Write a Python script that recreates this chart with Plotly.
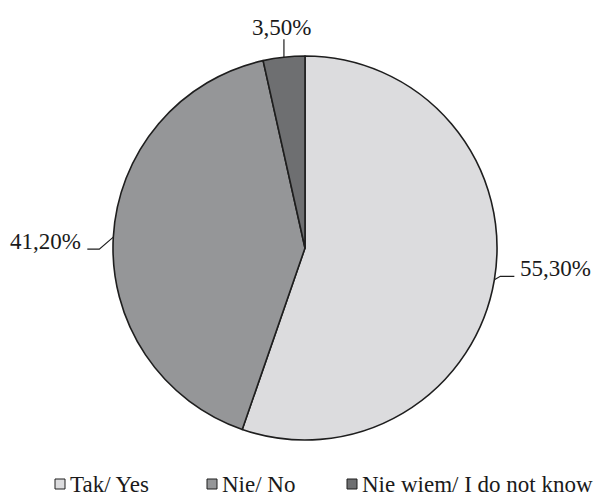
import plotly.graph_objects as go
import math

# ---- data ----
categories = ["Tak/ Yes", "Nie/ No", "Nie wiem/ I do not know"]
values = [55.3, 41.2, 3.5]
value_labels = ["55,30%", "41,20%", "3,50%"]

# ---- style ----
colors = ["#dcdcde", "#959698", "#6e6f71"]
edge_color = "#1e1e1e"
FONT = "Liberation Serif"
FS = 23
W, H = 605, 496
ML, MR, MT, MB = 113, 108, 56, 56
PW, PH = W - ML - MR, H - MT - MB
R = min(PW, PH) / 2
CX, CY = ML + PW / 2, MT + PH / 2


def px(x):
    return (x - ML) / PW


def py(y):
    return 1 - (y - MT) / PH


fig = go.Figure(go.Pie(
    labels=categories, values=values, sort=False, direction="clockwise",
    rotation=0, textinfo="none", hoverinfo="label+value",
    marker=dict(colors=colors, line=dict(color=edge_color, width=1.6)),
    showlegend=False,
))

# leader line style per slice: (elbow dx, elbow dy, horizontal run, text anchor)
leader_style = [(6, -3.5, 14, "left"), (-14, 12, -12, "right"), (0, -18, 0, "center")]

shapes = []
annotations = []
total = sum(values)
cum = 0
for v, lab, (edx, edy, hrun, anchor) in zip(values, value_labels, leader_style):
    mid = (cum + v / 2) / total * 2 * math.pi
    cum += v
    ex = CX + R * math.sin(mid)
    ey = CY - R * math.cos(mid)
    bx, by = ex + edx, ey + edy
    fx, fy = bx + hrun, by
    path = f"M {px(ex)} {py(ey)} L {px(bx)} {py(by)} L {px(fx)} {py(fy)}"
    shapes.append(dict(type="path", path=path, xref="paper", yref="paper",
                       line=dict(color=edge_color, width=1.2)))
    if anchor == "left":
        annotations.append(dict(x=px(fx + 4), y=py(fy - 8), text=lab, xanchor="left",
                                yanchor="middle", showarrow=False))
    elif anchor == "right":
        annotations.append(dict(x=px(fx - 4), y=py(fy - 8), text=lab, xanchor="right",
                                yanchor="middle", showarrow=False))
    else:
        annotations.append(dict(x=px(fx - 2), y=py(fy - 12), text=lab, xanchor="center",
                                yanchor="middle", showarrow=False))

# custom legend
legend_sq_x = [55, 207, 347]
LEG_Y = 484
for name, col, sx in zip(categories, colors, legend_sq_x):
    shapes.append(dict(type="rect", xref="paper", yref="paper",
                       x0=px(sx), x1=px(sx + 10), y0=py(LEG_Y + 5), y1=py(LEG_Y - 5),
                       fillcolor=col, line=dict(color=edge_color, width=1)))
    annotations.append(dict(x=px(sx + 13), y=py(LEG_Y), text=name, xanchor="left",
                            yanchor="middle", showarrow=False))

fig.update_layout(
    width=W, height=H,
    margin=dict(l=ML, r=MR, t=MT, b=MB),
    paper_bgcolor="white", plot_bgcolor="white",
    font=dict(family=FONT, size=FS, color="#1a1a1a"),
    shapes=shapes, annotations=annotations,
)

fig.write_html("out.html")
